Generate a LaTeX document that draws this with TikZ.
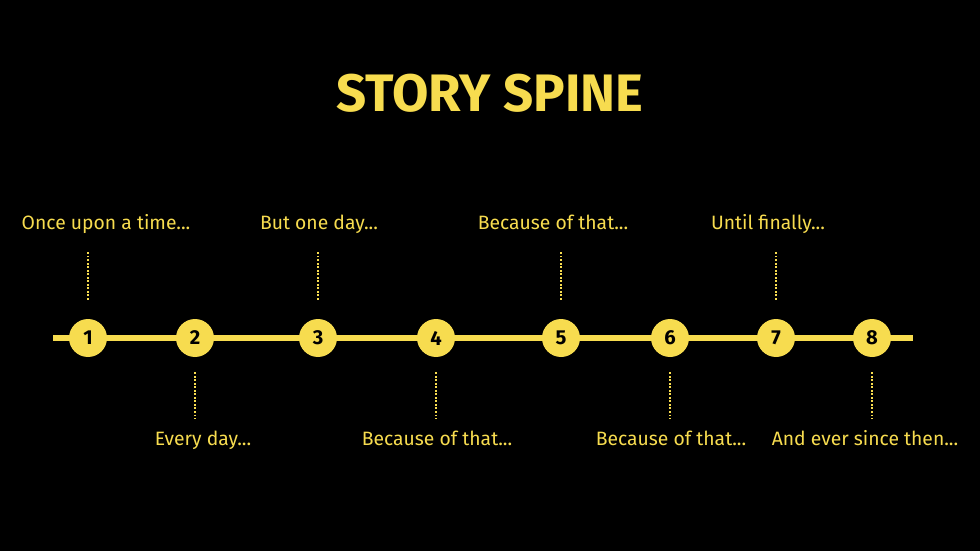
\documentclass[tikz,border=0pt]{standalone}
\usepackage{fontspec}
\setmainfont{Fira Sans}
\definecolor{spine}{HTML}{F7DC4F}
\newcommand{\etc}{...}
\begin{document}
\begin{tikzpicture}[
    x=0.02cm, y=-0.02cm,
    stop/.style={circle,fill=spine,minimum size=0.76cm,inner sep=0pt,font=\bfseries\fontsize{11.5}{13}\selectfont,text=black},
    caption/.style={anchor=base,text=spine,font=\fontsize{11}{13}\selectfont},
    guide/.style={spine,densely dotted,line width=1pt}]
    % Hintergrund
    \fill[black] (0,0) rectangle (980,551);
    \useasboundingbox (0,0) rectangle (980,551);

    % Titel
    \node[text=spine,font=\bfseries\fontsize{30}{34}\selectfont] (title) at (490,93) {STORY SPINE};

    % Achse
    \coordinate (start) at (53,338);
    \coordinate (end) at (913,338);
    \draw[spine,line width=3.2pt] (start) -- (end);

    % Stationen
    \foreach \n/\x in {1/88,2/195,3/318,4/436,5/561,6/670,7/776,8/872}
        \node[stop] (s\n) at (\x,338) {\n};

    % Beschriftungen oben
    \foreach \n/\x/\t in {1/106/{Once upon a time\etc},3/319/{But one day\etc},5/553/{Because of that\etc},7/768/{Until finally\etc}}{
        \node[caption] (l\n) at (\x,229) {\t};
        \coordinate (a\n) at ([yshift=0.38cm]s\n.north);
        \coordinate (b\n) at ([yshift=1.34cm]s\n.north);
        \draw[guide] (a\n) -- (b\n);
    }

    % Beschriftungen unten
    \foreach \n/\x/\t in {2/203/{Every day\etc},4/437/{Because of that\etc},6/671/{Because of that\etc},8/865/{And ever since then\etc}}{
        \node[caption] (l\n) at (\x,445) {\t};
        \coordinate (a\n) at ([yshift=-0.3cm]s\n.south);
        \coordinate (b\n) at ([yshift=-1.22cm]s\n.south);
        \draw[guide] (a\n) -- (b\n);
    }
\end{tikzpicture}
\end{document}
